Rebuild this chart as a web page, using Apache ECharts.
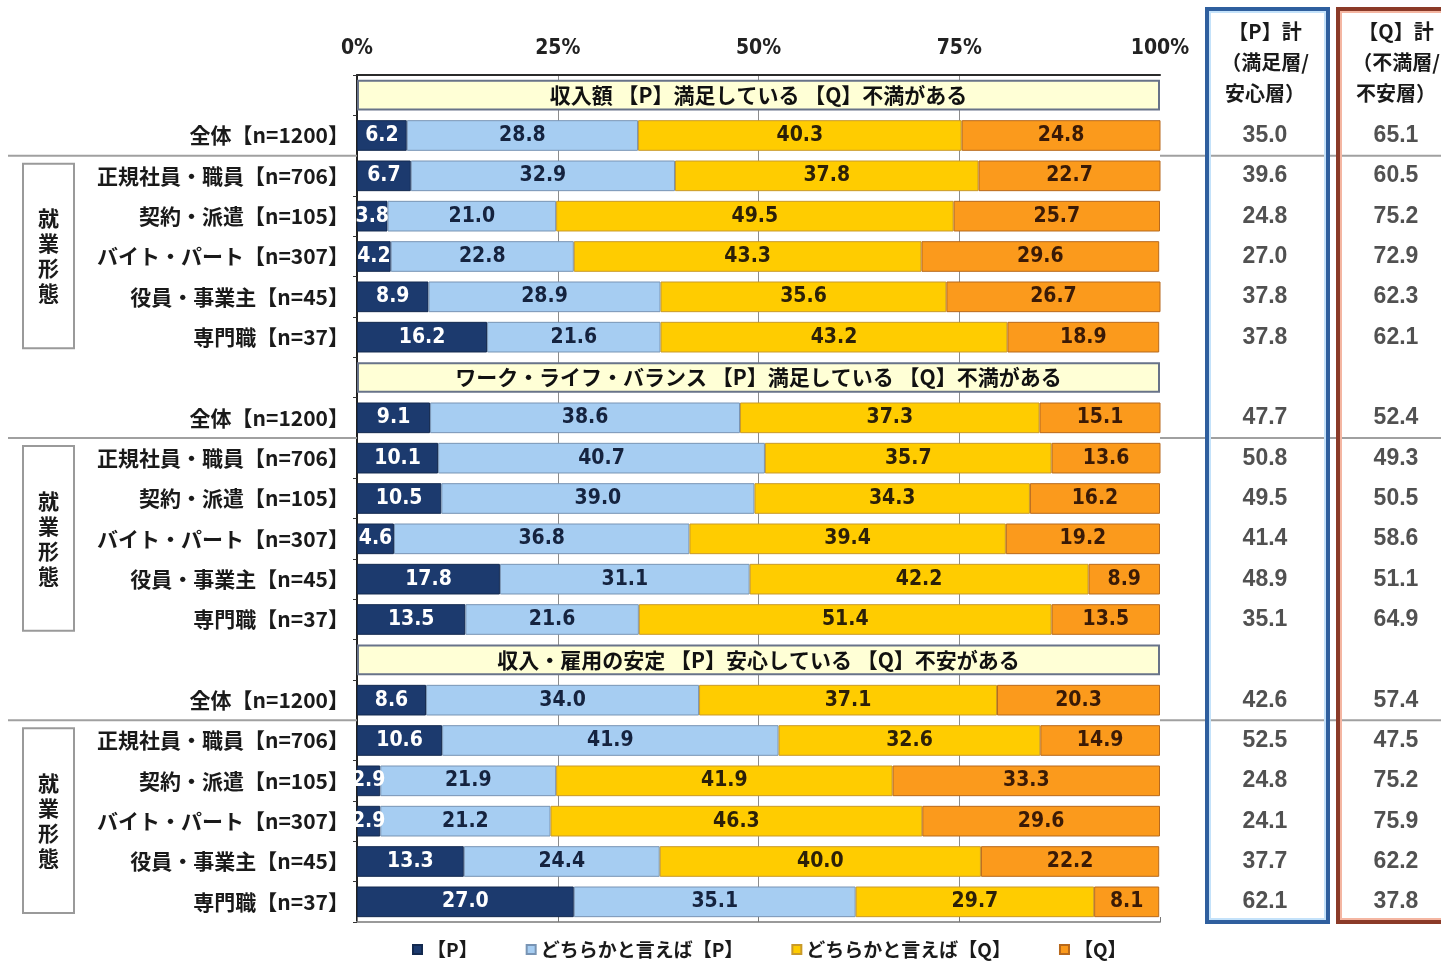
<!DOCTYPE html>
<html>
<head>
<meta charset="utf-8">
<script src="https://cdn.jsdelivr.net/npm/echarts@6/dist/echarts.min.js"></script>
<style>
  html, body { margin: 0; padding: 0; background: #ffffff; }
  #chart { width: 1441px; height: 964px; }
</style>
</head>
<body>
<div id="chart"></div>
<script>
// Section headings (one yellow band per topic)
const sectionTitles = [
  '収入額 【P】満足している 【Q】不満がある',
  'ワーク・ライフ・バランス 【P】満足している 【Q】不満がある',
  '収入・雇用の安定 【P】安心している 【Q】不安がある'
];
// Respondent groups, repeated in every section
const groupLabels = [
  '全体【n=1200】',
  '正規社員・職員【n=706】',
  '契約・派遣【n=105】',
  'バイト・パート【n=307】',
  '役員・事業主【n=45】',
  '専門職【n=37】'
];
const seriesNames = ['【P】', 'どちらかと言えば【P】', 'どちらかと言えば【Q】', '【Q】'];
const axisTicks = [0, 25, 50, 75, 100];
const groupCaption = '就業形態';
const totalHeaders = [
  ['【P】計', '（満足層/', '安心層）'],
  ['【Q】計', '（不満層/', '不安層）']
];

// Shares (%) per section, six groups each: 収入額 / ワーク・ライフ・バランス / 収入・雇用の安定
const strongP = [6.2, 6.7, 3.8, 4.2, 8.9, 16.2,   9.1, 10.1, 10.5, 4.6, 17.8, 13.5,   8.6, 10.6, 2.9, 2.9, 13.3, 27.0];
const leanP   = [28.8, 32.9, 21.0, 22.8, 28.9, 21.6,   38.6, 40.7, 39.0, 36.8, 31.1, 21.6,   34.0, 41.9, 21.9, 21.2, 24.4, 35.1];
const leanQ   = [40.3, 37.8, 49.5, 43.3, 35.6, 43.2,   37.3, 35.7, 34.3, 39.4, 42.2, 51.4,   37.1, 32.6, 41.9, 46.3, 40.0, 29.7];
const strongQ = [24.8, 22.7, 25.7, 29.6, 26.7, 18.9,   15.1, 13.6, 16.2, 19.2, 8.9, 13.5,   20.3, 14.9, 33.3, 29.6, 22.2, 8.1];
const totalP  = [35.0, 39.6, 24.8, 27.0, 37.8, 37.8,   47.7, 50.8, 49.5, 41.4, 48.9, 35.1,   42.6, 52.5, 24.8, 24.1, 37.7, 62.1];
const totalQ  = [65.1, 60.5, 75.2, 72.9, 62.3, 62.1,   52.4, 49.3, 50.5, 58.6, 51.1, 64.9,   57.4, 47.5, 75.2, 75.9, 62.2, 37.8];

const seriesColors = ['#1c3a6e', '#a6cdf2', '#ffcc00', '#fb9a1c'];
const seriesBorders = ['#13294f', '#7894b4', '#c99a2a', '#b8691c'];
const labelColors = ['#ffffff', '#15233f', '#2c2008', '#3a1a06'];

const numFont = "'Liberation Sans Narrow', 'DejaVu Sans Condensed', 'Liberation Sans', sans-serif";
const jpFont = "'Noto Sans CJK JP', 'Noto Sans', sans-serif";

// Row layout: per section one heading row followed by the six groups
const rowLabels = [];
const rowIsHeader = [];
const rowDataIndex = [];
sectionTitles.forEach((t, s) => {
  rowLabels.push(''); rowIsHeader.push(true); rowDataIndex.push(-1);
  groupLabels.forEach((g, k) => {
    rowLabels.push(g); rowIsHeader.push(false); rowDataIndex.push(s * groupLabels.length + k);
  });
});
const rowIds = rowLabels.map((_, i) => 'r' + i);
const perSection = groupLabels.length + 1;

const valueArrays = [strongP, leanP, leanQ, strongQ];

const barSeries = valueArrays.map((arr, si) => ({
  name: seriesNames[si],
  type: 'bar',
  stack: 'share',
  barWidth: '80%',
  xAxisIndex: 0,
  yAxisIndex: 0,
  data: rowDataIndex.map(d => (d < 0 ? '-' : arr[d])),
  itemStyle: { color: seriesColors[si], borderColor: seriesBorders[si], borderWidth: 1 },
  label: {
    show: true,
    position: 'inside',
    formatter: p => Number(p.value).toFixed(1),
    color: labelColors[si],
    fontFamily: numFont,
    fontWeight: 'bold',
    fontSize: 21
  },
  emphasis: { disabled: true }
}));

const headerSeries = {
  name: 'heading',
  type: 'bar',
  stack: 'share',
  barWidth: '76%',
  xAxisIndex: 0,
  yAxisIndex: 0,
  data: rowIsHeader.map(h => (h ? 100 : '-')),
  itemStyle: { color: '#ffffd6', borderColor: '#687389', borderWidth: 2 },
  label: {
    show: true,
    position: 'inside',
    formatter: p => sectionTitles[Math.floor(p.dataIndex / perSection)],
    color: '#111111',
    fontFamily: jpFont,
    fontWeight: 'bold',
    fontSize: 21
  },
  emphasis: { disabled: true }
};

// Total columns: x = 0 for 【P】計, x = 1 for 【Q】計
const totalSeries = [totalP, totalQ].map((arr, ci) => ({
  name: ci === 0 ? 'totalP' : 'totalQ',
  type: 'scatter',
  xAxisIndex: 2,
  yAxisIndex: 1,
  symbolSize: 0,
  data: rowDataIndex.map((d, r) => (d < 0 ? null : [ci, r, arr[d]])).filter(v => v),
  label: {
    show: true,
    position: 'inside',
    formatter: p => p.value[2].toFixed(1),
    color: '#262626',
    fontFamily: "'Liberation Sans', Arial, sans-serif",
    fontWeight: 'bold',
    fontSize: 23
  },
  emphasis: { disabled: true }
}));

const chart = echarts.init(document.getElementById('chart'), null, { renderer: 'canvas' });

chart.setOption({
  animation: false,
  backgroundColor: '#ffffff',
  grid: [
    { left: 357, right: 281, top: 75, bottom: 42 },
    { left: 1265, right: 45, top: 75, bottom: 42 }
  ],
  xAxis: [
    {
      type: 'value', gridIndex: 0, position: 'top',
      min: axisTicks[0], max: axisTicks[axisTicks.length - 1], interval: 25,
      axisLine: { show: true, lineStyle: { color: '#2a2a2a', width: 2 } },
      axisTick: { show: false },
      axisLabel: {
        formatter: v => v + '%', margin: 16,
        color: '#222', fontFamily: numFont, fontWeight: 'bold', fontSize: 21
      },
      splitLine: { show: true, showMinLine: false, showMaxLine: false, lineStyle: { color: '#8c8c8c', width: 1 } }
    },
    {
      type: 'value', gridIndex: 0, position: 'bottom',
      min: 0, max: 100, interval: 25,
      axisLine: { show: true, lineStyle: { color: '#9a9a9a', width: 2 } },
      axisTick: { show: true, inside: true, length: 5, lineStyle: { color: '#777' } },
      axisLabel: { show: false },
      splitLine: { show: false }
    },
    {
      type: 'value', gridIndex: 1, min: 0, max: 1,
      show: false
    }
  ],
  yAxis: [
    {
      type: 'category', gridIndex: 0, inverse: true, data: rowIds,
      axisLine: { show: true, lineStyle: { color: '#222', width: 2 } },
      axisTick: { show: true, length: 4, lineStyle: { color: '#333' } },
      axisLabel: {
        formatter: (v, i) => rowLabels[i], margin: 8,
        color: '#1a1a1a', fontFamily: jpFont, fontWeight: 'bold', fontSize: 21
      },
      splitLine: { show: false }
    },
    {
      type: 'category', gridIndex: 1, inverse: true, data: rowIds, show: false
    }
  ],
  legend: {
    data: seriesNames,
    left: 407,
    top: 935,
    itemWidth: 9,
    itemHeight: 9,
    itemGap: 48,
    icon: 'rect',
    textStyle: { color: '#1a1a1a', fontFamily: jpFont, fontWeight: 'bold', fontSize: 19 }
  },
  series: [headerSeries].concat(barSeries, totalSeries)
});

// Frames, separators and captions placed from the axis positions
function rowY(i) { return chart.convertToPixel({ gridIndex: 0 }, [0, i])[1]; }
const rowH = rowY(1) - rowY(0);
const plotBottom = rowY(rowIds.length - 1) + rowH / 2;
const plotLeft = chart.convertToPixel({ gridIndex: 0 }, [0, 0])[0];
const plotRight = chart.convertToPixel({ gridIndex: 0 }, [100, 0])[0];
const colP = chart.convertToPixel({ gridIndex: 1 }, [0, 0])[0];
const colQ = chart.convertToPixel({ gridIndex: 1 }, [1, 0])[0];

const graphics = [];
sectionTitles.forEach((t, s) => {
  const base = s * perSection;
  const sepY = rowY(base + 1) + rowH / 2;
  graphics.push({ type: 'line', z: 1, shape: { x1: 8, y1: sepY, x2: plotLeft, y2: sepY }, style: { stroke: '#a0a0a0', lineWidth: 2 } });
  graphics.push({ type: 'line', z: 1, shape: { x1: plotRight, y1: sepY, x2: 1441, y2: sepY }, style: { stroke: '#a0a0a0', lineWidth: 2 } });
  const top = rowY(base + 2) - rowH / 2 + 8;
  const bottom = rowY(base + perSection - 1) + rowH / 2 - 9;
  graphics.push({ type: 'rect', z: 2, shape: { x: 23, y: top, width: 51, height: bottom - top }, style: { fill: '#ffffff', stroke: '#9a9a9a', lineWidth: 2 } });
  graphics.push({
    type: 'text', z: 3, x: 48.5, y: (top + bottom) / 2,
    style: {
      text: groupCaption.split('').join('\n'),
      fill: '#1a1a1a', font: 'bold 21px ' + jpFont, lineHeight: 25,
      align: 'center', verticalAlign: 'middle'
    }
  });
});

// Total columns: boxes and multi-line headings
[
  { x: colP, left: 1207, right: 1328, outer: '#2f5f9e', inner: '#c4e2fa' },
  { x: colQ, left: 1338, right: 1460, outer: '#8b3a28', inner: '#f4b6a2' }
].forEach((c, ci) => {
  graphics.push({ type: 'rect', z: 4, shape: { x: c.left, y: 9, width: c.right - c.left, height: plotBottom - 9 }, style: { fill: 'none', stroke: c.outer, lineWidth: 4 } });
  graphics.push({ type: 'rect', z: 4, shape: { x: c.left + 3, y: 12, width: c.right - c.left - 6, height: plotBottom - 15 }, style: { fill: 'none', stroke: c.inner, lineWidth: 2 } });
  totalHeaders[ci].forEach((line, li) => {
    graphics.push({
      type: 'text', z: 5, x: c.x, y: 31 + li * 31,
      style: { text: line, fill: '#1a1a1a', font: 'bold 20px ' + jpFont, align: 'center', verticalAlign: 'middle' }
    });
  });
});

chart.setOption({ graphic: { elements: graphics } });
</script>
</body>
</html>
